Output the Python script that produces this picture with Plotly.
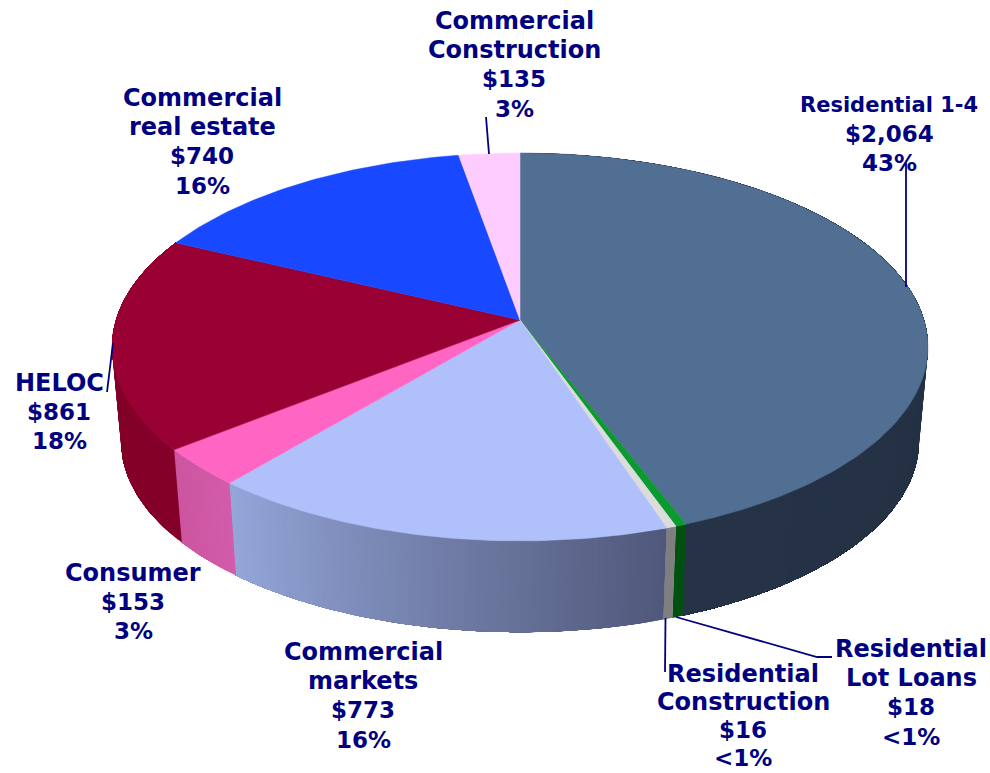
import math
import plotly.graph_objects as go

# Data, clockwise from 12 o'clock
names = ["Residential 1-4", "Residential<br>Lot Loans", "Residential<br>Construction",
         "Commercial<br>markets", "Consumer", "HELOC", "Commercial<br>real estate",
         "Commercial<br>Construction"]
values = [2064, 18, 16, 773, 153, 861, 740, 135]
percents = ["43%", "<1%", "<1%", "16%", "3%", "18%", "16%", "3%"]
top_colors = ["#516e93", "#0a9a30", "#dcdcdc", "#b0c0fb", "#ff66c4", "#990033", "#1848ff", "#ffccff"]
wall_left = ["#263347", "#00500f", "#7f7f7f", "#94a6d9", "#cc55a0", "#7d0029", "#1030b0", "#c090c0"]
wall_right = ["#212d3d", "#00500f", "#7f7f7f", "#50587a", "#d25ca9", "#850029", "#1030b0", "#c090c0"]
label_anchors = [(889, 105), (911, 649), (743, 674), (363, 652), (133, 573), (59, 383), (202, 98), (514, 21)]
label_steps = [29.2, 29.2, 28.0, 29.2, 29.2, 29.2, 29.2, 29.2]
first_line_sizes = [21, 24, 24, 24, 24, 24, 24, 24]
leaders = [[(906, 163), (906, 287)], [(676, 617), (817, 657), (832, 657)], [(665.5, 618), (665, 672)],
           [], [], [(107, 392), (113, 343)], [], [(486, 117), (489, 154)]]

NAVY = "#000080"


def warp(deg):
    return deg + 3 * math.sin(math.radians(deg / 2))


def rim(deg, cx, cy, a, b, k=0.139):
    t = math.radians(warp(deg))
    X, Y = math.sin(t), math.cos(t)
    return cx + a * X / (1 + k * Y), cy - b * Y / (1 + k * Y)


def top(deg):
    return rim(deg, 520, 320, 404, 190.2)


def bottom(deg):
    return rim(deg, 520, 415, 395, 187)


def hexrgb(c):
    return [int(c[i:i + 2], 16) for i in (1, 3, 5)]


def mix(c1, c2, t):
    a, b = hexrgb(c1), hexrgb(c2)
    return "rgb(%d,%d,%d)" % tuple(round(a[i] + (b[i] - a[i]) * t) for i in range(3))


total = sum(values)
edges = [0.0]
for v in values:
    edges.append(edges[-1] + v / total * 360)

fig = go.Figure()

# Walls: each colour band reaches to the slice's far end, so later bands paint over it with no seams
for i in range(len(values)):
    start, end = edges[i], edges[i + 1]
    if end < 70 or start > 290:
        continue
    n = max(1, math.ceil((end - start) / 0.8))
    for j in range(n):
        d0 = start + (end - start) * j / n
        m = max(2, math.ceil(end - d0))
        arc = [d0 + (end - d0) * q / m for q in range(m + 1)]
        p = [top(d) for d in arc] + [bottom(d) for d in reversed(arc)]
        p.append(p[0])
        col = mix(wall_right[i], wall_left[i], (j + 0.5) / n)
        fig.add_trace(go.Scatter(x=[q[0] for q in p], y=[q[1] for q in p], mode="lines", fill="toself",
                                 fillcolor=col, line=dict(width=0), hoverinfo="skip"))

# Top faces
for i in range(len(values)):
    start, end = edges[i], edges[i + 1]
    n = max(2, math.ceil(end - start))
    pts = [(520, 320)] + [top(start + (end - start) * j / n) for j in range(n + 1)] + [(520, 320)]
    fig.add_trace(go.Scatter(x=[q[0] for q in pts], y=[q[1] for q in pts], mode="lines", fill="toself",
                             fillcolor=top_colors[i], line=dict(color=top_colors[i], width=0.5),
                             hoverinfo="skip"))

# Leader lines
for seg in leaders:
    if seg:
        fig.add_trace(go.Scatter(x=[q[0] for q in seg], y=[q[1] for q in seg], mode="lines",
                                 line=dict(color=NAVY, width=1.8), hoverinfo="skip"))

# Labels, one annotation per line so the line spacing can be held
for i in range(len(values)):
    name_lines = names[i].split("<br>")
    lines = name_lines + [f"${values[i]:,}", percents[i]]
    x, y0 = label_anchors[i]
    for j, line in enumerate(lines):
        size = first_line_sizes[i] if j < len(name_lines) else 23
        fig.add_annotation(x=x, y=y0 + j * label_steps[i], text=line.replace("<", "&lt;"), showarrow=False,
                           xanchor="center", yanchor="middle", align="center",
                           font=dict(family="DejaVu Sans", size=size, color=NAVY, weight="bold"))

fig.update_layout(width=990, height=773, margin=dict(l=0, r=0, t=0, b=0), showlegend=False,
                  paper_bgcolor="white", plot_bgcolor="white",
                  xaxis=dict(range=[0, 990], visible=False, fixedrange=True),
                  yaxis=dict(range=[773, 0], visible=False, fixedrange=True))
fig.write_html("out.html", config={"displayModeBar": False},
               post_script="document.body.style.margin='0';")
